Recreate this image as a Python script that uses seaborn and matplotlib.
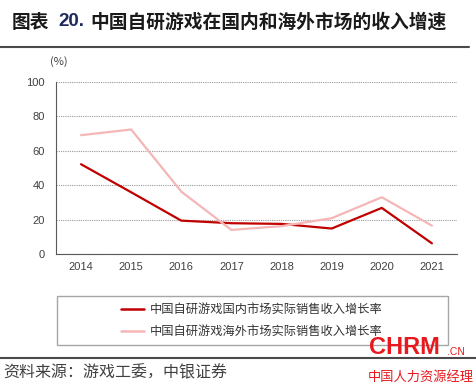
import matplotlib
matplotlib.use("Agg")
import matplotlib.pyplot as plt
from matplotlib.lines import Line2D
from matplotlib.patches import Rectangle
import seaborn as sns
import pandas as pd

# Data
years = ['2014', '2015', '2016', '2017', '2018', '2019', '2020', '2021']
domestic = [52.2, 35.9, 19.4, 17.9, 17.5, 14.8, 26.8, 6.2]
overseas = [69.1, 72.4, 36.3, 14.0, 16.2, 20.8, 33.0, 16.5]
name_dom = '中国自研游戏国内市场实际销售收入增长率'
name_ovs = '中国自研游戏海外市场实际销售收入增长率'
yticks = [0, 20, 40, 60, 80, 100]

df = pd.DataFrame({
    'year': years * 2,
    'value': domestic + overseas,
    'series': [name_dom] * len(years) + [name_ovs] * len(years),
})

sns.set_theme(style='white')
plt.rcParams['font.family'] = ['Noto Sans CJK SC', 'DejaVu Sans']

red = '#c00000'
pink = '#f4b6b6'

fig = plt.figure(figsize=(4.76, 3.87), dpi=100)
ax = fig.add_axes([0.1176, 0.3437, 0.8424, 0.4443])

sns.lineplot(data=df, x='year', y='value', hue='series',
             palette={name_dom: red, name_ovs: pink}, linewidth=1.6,
             legend=False, ax=ax, sort=False)

ax.set_xlim(-0.5, len(years) - 0.5)
ax.set_ylim(0, 100)
ax.set_yticks(yticks)
ax.set_xlabel('')
ax.set_ylabel('')
ax.grid(axis='y', color='#9a9a9a', linestyle=(0, (1, 1)), linewidth=0.8)
ax.set_axisbelow(True)
for s in ['top', 'right']:
    ax.spines[s].set_visible(False)
for s in ['left', 'bottom']:
    ax.spines[s].set_color('#595959')
    ax.spines[s].set_linewidth(0.8)
ax.tick_params(axis='y', which='major', direction='out', length=4, width=0.8,
               color='#595959', labelsize=8, labelcolor='#404040', pad=4)
ax.tick_params(axis='x', which='major', length=0, labelsize=8,
               labelcolor='#404040', pad=6)
ax.set_xticks([i - 0.5 for i in range(len(years) + 1)], minor=True)
ax.tick_params(axis='x', which='minor', direction='out', length=4, width=0.8,
               color='#595959')
for lab in ax.get_xticklabels() + ax.get_yticklabels():
    lab.set_family('Liberation Sans')

fig.text(50 / 476, 1 - 62 / 387, '(%)', fontsize=8, color='#404040',
         ha='left', va='center')

# title
fig.text(12 / 476, 1 - 22 / 387, '图表', fontsize=13.5, fontweight='bold',
         color='#1a1a1a', ha='left', va='center')
fig.text(58 / 476, 1 - 22 / 387, '20.', fontsize=13.5, fontweight='bold',
         color='#1f2a5c', ha='left', va='center', family='Liberation Sans')
fig.text(90 / 476, 1 - 22 / 387, '中国自研游戏在国内和海外市场的收入增速',
         fontsize=13.5, fontweight='bold', color='#1a1a1a', ha='left',
         va='center')
fig.add_artist(Line2D([0, 0.985], [1 - 47 / 387] * 2, color='#4a4a4a',
                      linewidth=1.5, transform=fig.transFigure))

# legend box
fig.add_artist(Rectangle((57 / 476, 1 - 345 / 387), (448 - 57) / 476,
                         (345 - 296) / 387, fill=False, edgecolor='#a6a6a6',
                         linewidth=1, transform=fig.transFigure))
handles = [Line2D([], [], color=red, linewidth=1.8),
           Line2D([], [], color=pink, linewidth=1.8)]
fig.legend(handles, [name_dom, name_ovs], loc='center',
           bbox_to_anchor=(252 / 476, 1 - 320.5 / 387), frameon=False,
           fontsize=8.8, handlelength=1.9, handletextpad=0.5,
           labelspacing=0.7, labelcolor='#333333')

# bottom rule and source
fig.add_artist(Line2D([0, 1], [1 - 358 / 387] * 2, color='#4a4a4a',
                      linewidth=1.5, transform=fig.transFigure))
fig.text(3 / 476, 1 - 373 / 387, '资料来源：游戏工委，中银证券', fontsize=11.5,
         color='#404040', ha='left', va='center', style='italic')

# watermark
fig.text(369 / 476, 1 - 347 / 387, 'CHRM', fontsize=17, fontweight='bold',
         color='#e8191e', ha='left', va='center', family='Liberation Sans')
fig.text(447 / 476, 1 - 352 / 387, '.CN', fontsize=7.5, color='#e8191e',
         ha='left', va='center', family='Liberation Sans')
fig.text(368 / 476, 1 - 377 / 387, '中国人力资源经理', fontsize=9.5,
         color='#e8191e', ha='left', va='center')

fig.savefig('out.png', dpi=100)
